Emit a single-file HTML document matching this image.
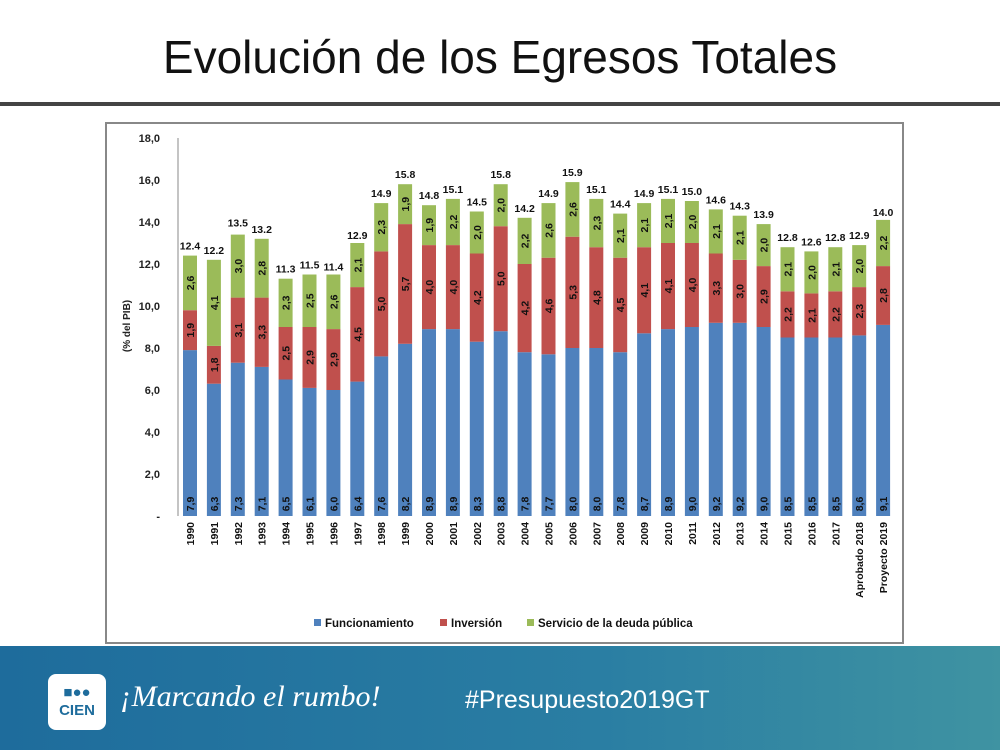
<!DOCTYPE html>
<html><head><meta charset="utf-8"><style>
body{margin:0;width:1000px;height:750px;overflow:hidden;background:#fff;font-family:"Liberation Sans",sans-serif;position:relative}
#title{position:absolute;left:0;width:1000px;top:30px;text-align:center;font-size:46px;color:#111}
#rule{position:absolute;left:0;top:102px;width:1000px;height:4px;background:#444}
#band{position:absolute;left:0;top:646px;width:1000px;height:104px;background:linear-gradient(90deg,#1e6c9c,#2a7ea3 60%,#3f93a2)}
</style></head><body>
<div id="title">Evolución de los Egresos Totales</div>
<div id="rule"></div>
<svg id="chart" width="1000" height="750" style="position:absolute;left:0;top:0"></svg>
<div id="band">
  <div style="position:absolute;left:48px;top:28px;width:58px;height:56px;background:#fff;border-radius:8px;color:#1e6c9c;font-weight:bold;font-size:15px;text-align:center;line-height:18px;padding-top:10px;box-sizing:border-box">■●●<br>CIEN</div>
  <div style="position:absolute;left:120px;top:34px;color:#fff;font-size:30px;font-style:italic;font-family:'Liberation Serif',serif">¡Marcando el rumbo!</div>
  <div style="position:absolute;left:465px;top:40px;color:#fff;font-size:25px">#Presupuesto2019GT</div>
</div>
<script>
const categories=["1990","1991","1992","1993","1994","1995","1996","1997","1998","1999","2000","2001","2002","2003","2004","2005","2006","2007","2008","2009","2010","2011","2012","2013","2014","2015","2016","2017","Aprobado 2018","Proyecto 2019"];
const funcionamiento=[7.9,6.3,7.3,7.1,6.5,6.1,6.0,6.4,7.6,8.2,8.9,8.9,8.3,8.8,7.8,7.7,8.0,8.0,7.8,8.7,8.9,9.0,9.2,9.2,9.0,8.5,8.5,8.5,8.6,9.1];
const inversion=[1.9,1.8,3.1,3.3,2.5,2.9,2.9,4.5,5.0,5.7,4.0,4.0,4.2,5.0,4.2,4.6,5.3,4.8,4.5,4.1,4.1,4.0,3.3,3.0,2.9,2.2,2.1,2.2,2.3,2.8];
const deuda=[2.6,4.1,3.0,2.8,2.3,2.5,2.6,2.1,2.3,1.9,1.9,2.2,2.0,2.0,2.2,2.6,2.6,2.3,2.1,2.1,2.1,2.0,2.1,2.1,2.0,2.1,2.0,2.1,2.0,2.2];
const totals=[12.4,12.2,13.5,13.2,11.3,11.5,11.4,12.9,14.9,15.8,14.8,15.1,14.5,15.8,14.2,14.9,15.9,15.1,14.4,14.9,15.1,15.0,14.6,14.3,13.9,12.8,12.6,12.8,12.9,14.0];
const yTicks=[0,2,4,6,8,10,12,14,16,18];
const svg=document.getElementById('chart');const NS='http://www.w3.org/2000/svg';
function mk(t,a,p){const e=document.createElementNS(NS,t);for(const k in a)e.setAttribute(k,a[k]);(p||svg).appendChild(e);return e;}
const y=v=>516-v*21;const x=i=>190+i*23.9;const bw=14;
const box=mk('rect',{x:106,y:123,width:797,height:520,fill:'#fff',stroke:'#888','stroke-width':2});


const ax=mk('line',{x1:178,x2:178,y1:138,y2:516,stroke:'#888'});


yTicks.forEach(v=>{const t=mk('text',{x:160,y:y(v)+4,'text-anchor':'end','font-size':11,'font-weight':'bold',fill:'#222'});t.textContent=v===0?'-':v.toFixed(1).replace('.',',');

});
const yt=mk('text',{transform:'translate(130,326) rotate(-90)','text-anchor':'middle','font-size':10,'font-weight':'bold',fill:'#222'});yt.textContent='(% del PIB)';


const series=[[funcionamiento,'#4f81bd','funcionamiento'],[inversion,'#c0504d','inversion'],[deuda,'#9bbb59','deuda']];
categories.forEach((c,i)=>{let base=0;
 series.forEach(([arr,col,nm])=>{const v=arr[i];const r=mk('rect',{x:x(i)-bw/2,y:y(base+v),width:bw,height:v*21,fill:col});
  
  
  const ly=nm==='funcionamiento'?y(base)-12:y(base+v/2);
  const t=mk('text',{transform:`translate(${x(i)+4},${ly}) rotate(-90)`,'text-anchor':'middle','font-size':10.5,'font-weight':'bold',fill:'#111'});t.textContent=v.toFixed(1).replace('.',',');
  
  
  base+=v;});
 const tt=mk('text',{x:x(i),y:y(totals[i])-6,'text-anchor':'middle','font-size':10.5,'font-weight':'bold',fill:'#111'});tt.textContent=totals[i].toFixed(1);
 
 
 const cl=mk('text',{transform:`translate(${x(i)+4},522) rotate(-90)`,'text-anchor':'end','font-size':10.5,'font-weight':'bold',fill:'#111'});cl.textContent=c;
 
 
});
const leg=[['Funcionamiento','#4f81bd',314],['Inversión','#c0504d',440],['Servicio de la deuda pública','#9bbb59',527]];
leg.forEach(([n,c,lx])=>{const g=mk('g',{});
 
 
 mk('rect',{x:lx,y:619,width:7,height:7,fill:c},g);const t=mk('text',{x:lx+11,y:627,'font-size':11.5,'font-weight':'bold',fill:'#111'},g);t.textContent=n;});
</script>
</body></html>
